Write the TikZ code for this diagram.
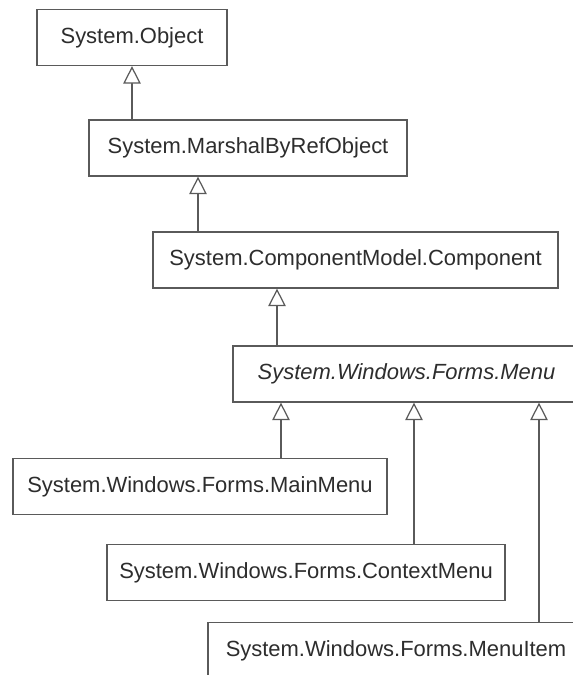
\documentclass[tikz,border=0pt]{standalone}
\usepackage{fontspec}
\setmainfont{Liberation Sans}
\usetikzlibrary{arrows.meta}
\definecolor{linegray}{RGB}{90,90,90}
\definecolor{textgray}{RGB}{45,45,45}

\begin{document}
\begin{tikzpicture}[x=0.02cm,y=-0.02cm,
  cls/.style={draw=linegray,line width=0.7pt,fill=white,text=textgray,
    minimum height=1.12cm,inner sep=0pt,font=\fontsize{12.5}{15}\selectfont},
  gen/.style={draw=linegray,line width=0.7pt,
    -{Triangle[open,length=10pt,width=10pt,fill=white]}}]
\useasboundingbox (0,0) rectangle (573,675);
\clip (0,0) rectangle (573,675);

\node[cls,minimum width=3.8cm]  (obj)     at (132,37.5)  {System.Object};
\node[cls,minimum width=6.36cm] (marshal) at (248,148)   {System.MarshalByRefObject};
\node[cls,minimum width=8.1cm]  (comp)    at (355.5,260) {System.ComponentModel.Component};
\node[cls,minimum width=6.94cm] (menu)    at (406.5,374) {\itshape System.Windows.Forms.Menu};

\node[cls,minimum width=7.48cm] (mainmenu) at (200,486.5) {System.Windows.Forms.MainMenu};
\node[cls,minimum width=7.96cm] (ctxmenu)  at (306,572.5) {System.Windows.Forms.ContextMenu};
\node[cls,minimum width=7.52cm] (menuitem) at (396,650.5) {System.Windows.Forms.MenuItem};

% generalisation
\draw[gen] (obj.south |- marshal.north) -- (obj.south);
\draw[gen] (comp.north -| 198,0) -- (marshal.south -| 198,0);
\draw[gen] (menu.north -| 277,0) -- (comp.south -| 277,0);

\draw[gen] (mainmenu.north -| 281,0) -- (menu.south -| 281,0);
\draw[gen] (ctxmenu.north -| 414,0) -- (menu.south -| 414,0);
\draw[gen] (menuitem.north -| 539,0) -- (menu.south -| 539,0);
\end{tikzpicture}
\end{document}
